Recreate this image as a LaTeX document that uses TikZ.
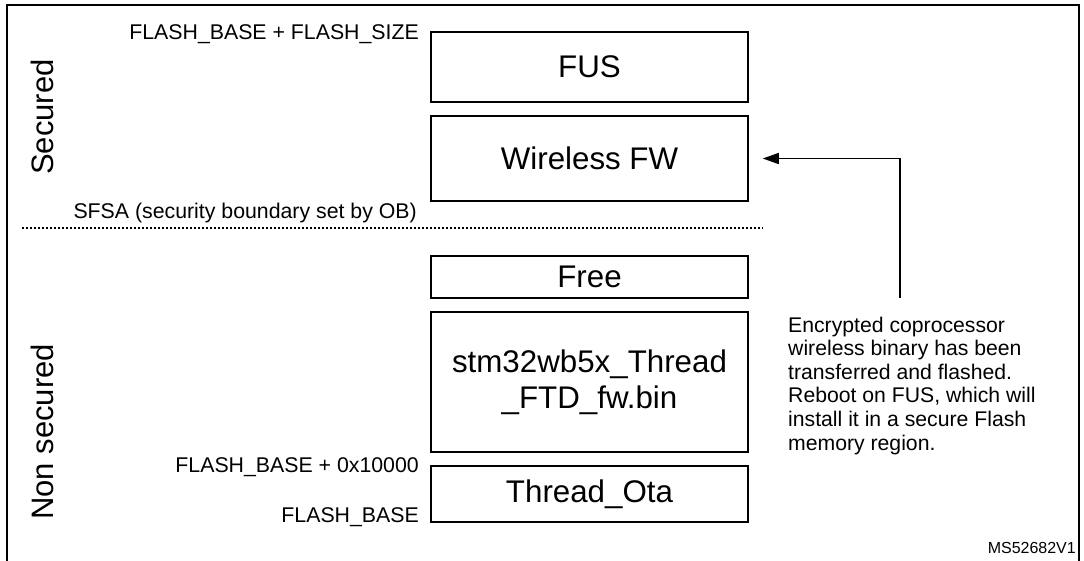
\documentclass[tikz,border=0pt]{standalone}
\usepackage{fontspec}
\setmainfont{Liberation Sans}
\usetikzlibrary{arrows.meta}
\begin{document}
\begin{tikzpicture}[x=1pt,y=-1pt,
  mem/.style={draw, line width=1.5pt, minimum width=317pt, inner sep=0pt,
    font=\fontsize{31.3}{36}\selectfont, align=center},
  lbl/.style={font=\fontsize{21.3}{24}\selectfont, inner sep=0pt, anchor=base east},
  side/.style={font=\fontsize{31}{36}\selectfont, rotate=90, inner sep=0pt, anchor=base},
  frame/.style={line width=2.5pt},
  bound/.style={line width=1.2pt, dash pattern=on 2pt off 2pt},
  link/.style={line width=1.5pt, -{Triangle[length=16pt,width=11pt]}}]
\useasboundingbox (0,0) rectangle (1084,560);
% outer frame (bottom edge is cut off)
\coordinate (fbl) at (7,562);
\coordinate (ftl) at (7,5);
\coordinate (ftr) at (1079,5);
\coordinate (fbr) at (1079,562);
\draw[frame] (fbl) -- (ftl) -- (ftr) -- (fbr);
% memory regions
\node[mem, minimum height=70pt]  (fus)  at (589.5,67)    {FUS};
\node[mem, minimum height=85pt]  (wfw)  at (589.5,158.5) {Wireless FW};
\node[mem, minimum height=42pt]  (free) at (589.5,277)   {Free};
\node[mem, minimum height=140pt] (stm)  at (589.5,382)   {stm32wb5x\_Thread\\\_FTD\_fw.bin};
\node[mem, minimum height=56pt]  (ota)  at (589.5,494)   {Thread\_Ota};
% address labels
\node[lbl] (ltop)  at (419,39.5)  {FLASH\_BASE + FLASH\_SIZE};
\node[lbl] (lsfsa) at (417,218)   {SFSA (security boundary set by OB)};
\node[lbl] (lota)  at (419,472.5) {FLASH\_BASE + 0x10000};
\node[lbl] (lbase) at (419,522)   {FLASH\_BASE};
% security boundary
\coordinate (bl) at (22,228);
\coordinate (br) at (763,228);
\draw[bound] (bl) -- (br);
% side labels
\node[side] (sec)  at (53,117) {Secured};
\node[side] (nsec) at (53,432) {Non secured};
% annotation
\node[anchor=north west, align=left, inner sep=0pt,
      font=\fontsize{21.2}{23.6}\selectfont] (note) at (788,316.5)
  {Encrypted coprocessor\\wireless binary has been\\transferred and flashed.\\Reboot on FUS, which will\\install it in a secure Flash\\memory region.};
\coordinate (a0) at (900,298);
\draw[link] (a0) |- ([xshift=14pt]wfw.east);
% figure id
\node[anchor=base east, inner sep=0pt, font=\fontsize{16}{18}\selectfont] (id) at (1076,553) {MS52682V1};
\end{tikzpicture}
\end{document}
